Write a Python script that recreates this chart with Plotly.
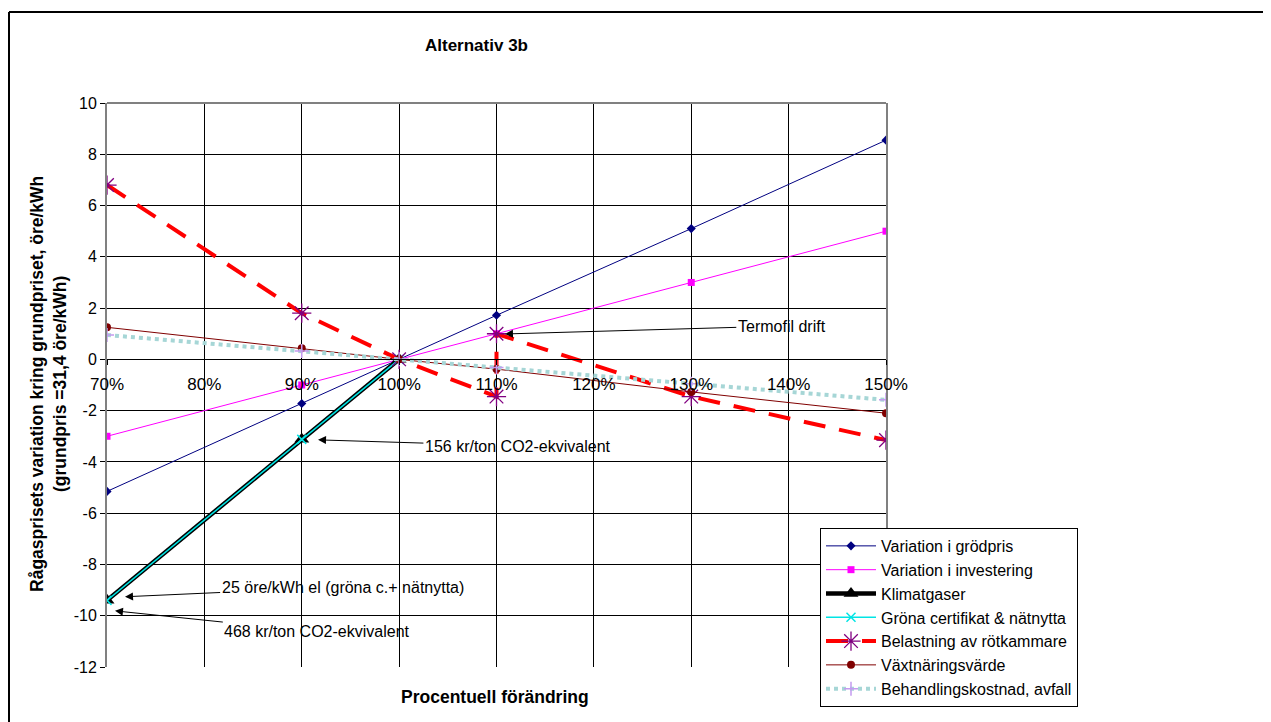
import plotly.graph_objects as go

# ---- data ----
tick_vals = [0.7, 0.8, 0.9, 1.0, 1.1, 1.2, 1.3, 1.4, 1.5]
tick_text = ["70%", "80%", "90%", "100%", "110%", "120%", "130%", "140%", "150%"]
y_tick_vals = [10, 8, 6, 4, 2, 0, -2, -4, -6, -8, -10, -12]
y_tick_text = ["10", "8", "6", "4", "2", "0", "-2", "-4", "-6", "-8", "-10", "-12"]

x_std = [0.7, 0.9, 1.0, 1.1, 1.3, 1.5]
grodpris = [-5.15, -1.72, 0, 1.72, 5.1, 8.55]
investering = [-3.0, -1.0, 0, 1.0, 3.0, 5.0]
vaxtnaring = [1.25, 0.43, 0, -0.38, -1.27, -2.1]
behandling = [0.95, 0.33, 0, -0.32, -0.95, -1.58]

x_klimat = [0.7, 0.9, 1.0]
klimat = [-9.4, -3.12, 0]
grona = [-9.4, -3.12, 0]

x_belast = [0.7, 0.9, 1.0, 1.1, 1.1, 1.3, 1.5]
belast = [6.8, 1.8, 0, -1.45, 1.0, -1.45, -3.15]

FONT = "Liberation Sans, Arial, sans-serif"

fig = go.Figure()
fig.add_trace(go.Scatter(x=x_std, y=grodpris, name="Variation i grödpris", mode="lines+markers",
                         line=dict(color="#000080", width=1),
                         marker=dict(symbol="diamond", size=7, color="#000080")))
fig.add_trace(go.Scatter(x=x_std, y=investering, name="Variation i investering", mode="lines+markers",
                         line=dict(color="#FF00FF", width=1),
                         marker=dict(symbol="square", size=7, color="#FF00FF")))
fig.add_trace(go.Scatter(x=x_klimat, y=klimat, name="Klimatgaser", mode="lines+markers",
                         line=dict(color="#000000", width=4.5),
                         marker=dict(symbol="triangle-up", size=13, color="#000000")))
fig.add_trace(go.Scatter(x=x_klimat, y=grona, name="Gröna certifikat & nätnytta", mode="lines+markers",
                         line=dict(color="#00E5E5", width=1.5),
                         marker=dict(symbol="x-thin-open", size=9, color="#00E5E5",
                                     line=dict(color="#00E5E5", width=1.5))))
fig.add_trace(go.Scatter(x=x_belast, y=belast, name="Belastning av rötkammare", mode="lines+markers",
                         line=dict(color="#FF0000", width=4, dash="22px,14px"),
                         marker=dict(symbol="asterisk-open", size=16, color="#800080",
                                     line=dict(color="#800080", width=1.3))))
fig.add_trace(go.Scatter(x=x_std, y=vaxtnaring, name="Växtnäringsvärde", mode="lines+markers",
                         line=dict(color="#800000", width=1),
                         marker=dict(symbol="circle", size=8, color="#800000")))
fig.add_trace(go.Scatter(x=x_std, y=behandling, name="Behandlingskostnad, avfall", mode="lines+markers",
                         line=dict(color="#A6D6D6", width=4, dash="dot"),
                         marker=dict(symbol="cross-thin-open", size=10, color="#C49BF0",
                                     line=dict(color="#C49BF0", width=1.5))))

fig.update_xaxes(range=[0.7, 1.5], tickvals=tick_vals, ticktext=tick_text,
                 showgrid=True, gridcolor="#000000", gridwidth=1, automargin=False,
                 anchor="free", position=12 / 22, showline=True, linecolor="#000000", linewidth=1,
                 ticks="outside", ticklen=5, tickcolor="#000000", ticklabelstandoff=4,
                 tickfont=dict(family=FONT, size=17, color="#000000"), zeroline=False)
fig.update_yaxes(range=[-12, 10], tickvals=y_tick_vals, ticktext=y_tick_text,
                 showgrid=True, gridcolor="#000000", gridwidth=1, automargin=False,
                 showline=True, linecolor="#808080", linewidth=2, mirror=True,
                 ticks="outside", ticklen=5, tickcolor="#000000",
                 tickfont=dict(family=FONT, size=16, color="#000000"), zeroline=False)

annots = [
    dict(text="Termofil drift", x=1.1087, y=0.99, ax=1.393, ay=1.30),
    dict(text="Termofil drift", x=1.502, y=-3.03, ax=1.5175, ay=0.02),
    dict(text="156 kr/ton CO2-ekvivalent", x=0.9167, y=-3.14, ax=1.122, ay=-3.38),
    dict(text="25 öre/kWh el (gröna c.+ nätnytta)", x=0.7185, y=-9.26, ax=0.942, ay=-8.88),
    dict(text="468 kr/ton CO2-ekvivalent", x=0.7082, y=-9.81, ax=0.916, ay=-10.63),
]
for a in annots:
    fig.add_annotation(text=a["text"], x=a["x"], y=a["y"], ax=a["ax"], ay=a["ay"],
                       xref="x", yref="y", axref="x", ayref="y",
                       showarrow=True, arrowhead=2, arrowsize=1.6, arrowwidth=1, arrowcolor="#000000",
                       standoff=0, bgcolor="rgba(0,0,0,0)",
                       font=dict(family=FONT, size=16, color="#000000"))

fig.add_annotation(text="<b>Alternativ 3b</b>", xref="paper", yref="paper", x=0.4737, y=1.1028,
                   xanchor="center", yanchor="middle",
                   showarrow=False, font=dict(family=FONT, size=17, color="#000000"))
fig.add_annotation(text="<b>Procentuell förändring</b>", xref="paper", yref="paper", x=0.498, y=-0.0532,
                   xanchor="center", yanchor="middle",
                   showarrow=False, font=dict(family=FONT, size=17.5, color="#000000"))
fig.add_annotation(text="<b>Rågasprisets variation kring grundpriset, öre/kWh<br>(grundpris =31,4 öre/kWh)</b>",
                   xref="paper", yref="paper", x=(49 - 107) / 779, y=0.5018, textangle=-90,
                   xanchor="center", yanchor="middle",
                   showarrow=False, font=dict(family=FONT, size=17.5, color="#000000"))

# outer frame: left and top edges
fx0 = (9 - 107) / 779
fy1 = (667 - 12) / 564
fig.add_shape(type="line", xref="paper", yref="paper", x0=fx0, x1=fx0, y0=(667 - 800) / 564, y1=fy1,
              line=dict(color="#000000", width=2))
fig.add_shape(type="line", xref="paper", yref="paper", x0=fx0, x1=(1400 - 107) / 779, y0=fy1, y1=fy1,
              line=dict(color="#000000", width=2))
# plot area top border
fig.add_shape(type="line", xref="paper", yref="paper", x0=0, x1=1, y0=1, y1=1,
              line=dict(color="#808080", width=2))

fig.update_layout(
    width=1263, height=714,
    margin=dict(l=99, r=385, t=95, b=55, autoexpand=False),
    paper_bgcolor="white", plot_bgcolor="white",
    font=dict(family=FONT, color="#000000"),
    showlegend=True,
    legend=dict(x=(820 - 107) / 779, y=0.2465, xanchor="left", yanchor="top",
                bgcolor="white", bordercolor="#000000", borderwidth=1,
                font=dict(family=FONT, size=16, color="#000000"), itemwidth=50,
                tracegroupgap=0),
)

fig.write_html("out.html")
